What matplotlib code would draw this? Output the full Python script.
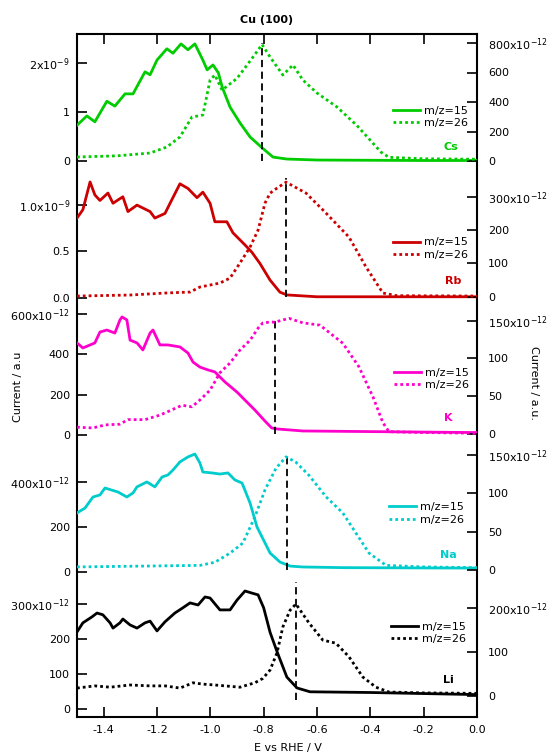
import numpy as np
import matplotlib
matplotlib.use('Agg')
import matplotlib.pyplot as plt

# ----- Fonts -----
plt.rcParams['font.family'] = ['DejaVu Sans']
plt.rcParams['mathtext.fontset'] = 'dejavusans'
plt.rcParams['axes.unicode_minus'] = False

# ----- Data (E vs RHE / V ; currents in the units given by the names) -----
cs_x15 = [-1.50, -1.463, -1.433, -1.388, -1.358, -1.320, -1.290, -1.245, -1.226, -1.200, -1.163, -1.140,
          -1.110, -1.084, -1.058, -1.028, -1.012, -0.990, -0.970, -0.955, -0.926, -0.889, -0.851, -0.806,
          -0.765, -0.713, -0.60, -0.40, -0.20, 0.0]
cs_y15_e9 = [0.73, 0.92, 0.80, 1.22, 1.12, 1.37, 1.37, 1.82, 1.76, 2.06, 2.29, 2.20,
             2.39, 2.27, 2.39, 2.06, 1.86, 1.96, 1.80, 1.50, 1.10, 0.78, 0.49, 0.27,
             0.08, 0.04, 0.02, 0.015, 0.01, 0.01]
cs_x26 = [-1.50, -1.35, -1.226, -1.163, -1.114, -1.069, -1.028, -1.001, -0.983, -0.956, -0.90, -0.85,
          -0.806, -0.776, -0.728, -0.69, -0.653, -0.60, -0.525, -0.45, -0.40, -0.36, -0.33, -0.20, 0.0]
cs_y26_e12 = [27, 35, 54, 95, 163, 298, 312, 549, 583, 481, 560, 680,
              790, 705, 583, 651, 549, 461, 366, 240, 140, 60, 25, 15, 12]

rb_x15 = [-1.50, -1.478, -1.451, -1.433, -1.414, -1.384, -1.365, -1.328, -1.309, -1.275, -1.226, -1.208,
          -1.170, -1.151, -1.114, -1.084, -1.050, -1.028, -1.001, -0.983, -0.938, -0.915, -0.870, -0.844,
          -0.814, -0.776, -0.739, -0.713, -0.60, 0.0]
rb_y15_e9 = [0.86, 0.95, 1.25, 1.11, 1.05, 1.13, 1.02, 1.09, 0.93, 1.00, 0.93, 0.86,
             0.91, 1.02, 1.23, 1.18, 1.08, 1.14, 1.02, 0.82, 0.82, 0.70, 0.57, 0.49,
             0.37, 0.19, 0.06, 0.03, 0.01, 0.01]
rb_x26 = [-1.50, -1.301, -1.170, -1.076, -1.039, -0.964, -0.926, -0.889, -0.851, -0.821, -0.795, -0.776,
          -0.750, -0.716, -0.641, -0.566, -0.48, -0.416, -0.353, -0.30, 0.0]
rb_y26_e12 = [2, 5, 11, 14, 29, 41, 56, 101, 149, 200, 281, 311,
              326, 344, 311, 251, 179, 89, 11, 3, 2]

k_x15 = [-1.50, -1.478, -1.433, -1.414, -1.388, -1.358, -1.339, -1.331, -1.313, -1.301, -1.275, -1.253,
         -1.226, -1.215, -1.189, -1.159, -1.114, -1.084, -1.065, -1.039, -1.009, -0.983, -0.964, -0.945,
         -0.900, -0.833, -0.795, -0.770, -0.750, -0.653, 0.0]
k_y15_e12 = [457, 432, 457, 511, 521, 506, 571, 586, 571, 471, 457, 422,
             506, 521, 447, 447, 437, 407, 362, 337, 323, 313, 288, 263,
             213, 124, 69, 35, 30, 20, 12]
k_x26 = [-1.50, -1.44, -1.395, -1.339, -1.309, -1.245, -1.189, -1.144, -1.106, -1.069, -1.039, -1.001,
         -0.964, -0.926, -0.889, -0.851, -0.821, -0.803, -0.776, -0.758, -0.705, -0.653, -0.589, -0.503,
         -0.443, -0.39, -0.353, -0.33, -0.20, 0.0]
k_y26_e12 = [9, 8, 12, 13, 19, 19, 25, 32, 38, 36, 45, 58,
             81, 94, 111, 124, 140, 147, 148, 148, 153, 147, 144, 120,
             89, 49, 15, 3, 2, 1]

na_x15 = [-1.50, -1.470, -1.440, -1.414, -1.395, -1.346, -1.313, -1.290, -1.275, -1.238, -1.208, -1.181,
          -1.159, -1.140, -1.114, -1.084, -1.058, -1.039, -1.028, -0.994, -0.964, -0.934, -0.908, -0.881,
          -0.851, -0.825, -0.795, -0.776, -0.739, -0.701, -0.653, -0.50, 0.0]
na_y15_e12 = [261, 283, 332, 341, 372, 354, 332, 350, 377, 399, 377, 421,
              430, 452, 488, 510, 523, 483, 443, 439, 434, 439, 408, 394,
              305, 199, 128, 83, 43, 25, 21, 18, 16]
na_x26 = [-1.50, -1.039, -0.983, -0.926, -0.878, -0.833, -0.795, -0.754, -0.716, -0.679, -0.630, -0.566,
          -0.503, -0.454, -0.405, -0.341, -0.20, 0.0]
na_y26_e12 = [4, 6, 10, 22, 35, 69, 104, 132, 147, 140, 123, 95,
              74, 48, 22, 6, 4, 3]

li_x15 = [-1.50, -1.478, -1.444, -1.425, -1.403, -1.376, -1.365, -1.339, -1.328, -1.301, -1.275, -1.245,
          -1.226, -1.200, -1.170, -1.133, -1.103, -1.076, -1.046, -1.020, -1.001, -0.964, -0.926, -0.900,
          -0.870, -0.844, -0.821, -0.800, -0.776, -0.750, -0.713, -0.675, -0.626, -0.40, 0.0]
li_y15_e12 = [221, 247, 264, 275, 270, 247, 232, 247, 258, 241, 232, 247,
              252, 224, 250, 275, 290, 304, 298, 321, 318, 284, 284, 312,
              338, 332, 327, 290, 220, 165, 92, 61, 50, 48, 42]
li_x26 = [-1.50, -1.433, -1.376, -1.301, -1.226, -1.170, -1.114, -1.065, -1.028, -0.983, -0.889, -0.833,
          -0.803, -0.776, -0.750, -0.728, -0.701, -0.679, -0.630, -0.578, -0.529, -0.480, -0.428, -0.379,
          -0.330, -0.20, 0.0]
li_y26_e12 = [18, 23, 20, 25, 23, 23, 18, 30, 27, 25, 20, 30,
              40, 59, 98, 157, 195, 209, 166, 127, 120, 89, 43, 20,
              9, 7, 6]

# peak markers (vertical dashed lines, right-axis units)
peak_v = [-0.806, -0.717, -0.758, -0.714, -0.679]
peak_lo = [0, 0, 0, 0, -8]
peak_hi = [800, 356, 155, 152, 259]

cations = ['Cs', 'Rb', 'K', 'Na', 'Li']
colors = ['#00cc00', '#cc0000', '#ff00cc', '#00cccc', '#000000']
x15 = [cs_x15, rb_x15, k_x15, na_x15, li_x15]
y15 = [cs_y15_e9, rb_y15_e9, k_y15_e12, na_y15_e12, li_y15_e12]
x26 = [cs_x26, rb_x26, k_x26, na_x26, li_x26]
y26 = [cs_y26_e12, rb_y26_e12, k_y26_e12, na_y26_e12, li_y26_e12]

left_ticks = [[0, 1, 2], [0.0, 0.5, 1.0], [0, 200, 400, 600], [0, 200, 400], [0, 100, 200, 300]]
left_labels = [['0', '1', '2x10$^{-9}$'], ['0.0', '0.5', '1.0x10$^{-9}$'],
               ['0', '200', '400', '600x10$^{-12}$'], ['0', '200', '400x10$^{-12}$'],
               ['0', '100', '200', '300x10$^{-12}$']]
right_ticks = [[0, 200, 400, 600, 800], [0, 100, 200, 300], [0, 50, 100, 150], [0, 50, 100, 150], [0, 100, 200]]
right_labels = [['0', '200', '400', '600', '800x10$^{-12}$'], ['0', '100', '200', '300x10$^{-12}$'],
                ['0', '50', '100', '150x10$^{-12}$'], ['0', '50', '100', '150x10$^{-12}$'],
                ['0', '100', '200x10$^{-12}$']]

# ----- Layout (pixels) -----
W, H = 552, 755
fl, fr, ft, fb = 77, 477, 34, 717
rect = [fl / W, 1 - fb / H, (fr - fl) / W, (fb - ft) / H]
# zero pixel row and pixels per unit for each panel, left / right axes
left_zero = [161, 297.7, 435, 571.7, 709.3]
left_scale = [49, 92.6, 0.2015, 0.225, 0.35]
right_zero = [161, 296.7, 434, 570, 696]
right_scale = [0.1475, 0.333, 0.756, 0.77, 0.44]
legend_pos = [(393, 117), (393, 248.5), (394, 379), (389, 513.5), (391, 633)]
name_pos = [(451, 147), (453, 281), (448, 418), (448, 555), (448, 680)]

fs = 8
fig = plt.figure(figsize=(W / 100, H / 100), dpi=100)

frame = fig.add_axes(rect)
frame.set_xlim(-1.5, 0.0)
frame.set_ylim(0, 1)
frame.set_xticks([-1.4, -1.2, -1.0, -0.8, -0.6, -0.4, -0.2, 0.0])
frame.set_xticklabels(['-1.4', '-1.2', '-1.0', '-0.8', '-0.6', '-0.4', '-0.2', '0.0'])
frame.set_yticks([])
frame.tick_params(axis='x', direction='in', top=True, length=7, width=1.2, pad=6, labelsize=fs)
for sp in frame.spines.values():
    sp.set_linewidth(1.5)

for i in range(5):
    axL = fig.add_axes(rect)
    axL.patch.set_visible(False)
    axL.set_xlim(-1.5, 0.0)
    axL.xaxis.set_visible(False)
    for sp in axL.spines.values():
        sp.set_visible(False)
    axL.set_ylim((left_zero[i] - fb) / left_scale[i], (left_zero[i] - ft) / left_scale[i])
    axL.set_yticks(left_ticks[i])
    axL.set_yticklabels(left_labels[i])
    axL.tick_params(axis='y', direction='in', length=7, width=1.2, pad=5, labelsize=fs)

    axR = axL.twinx()
    axR.patch.set_visible(False)
    for sp in axR.spines.values():
        sp.set_visible(False)
    axR.set_ylim((right_zero[i] - fb) / right_scale[i], (right_zero[i] - ft) / right_scale[i])
    axR.set_yticks(right_ticks[i])
    axR.set_yticklabels(right_labels[i])
    axR.tick_params(axis='y', direction='in', length=7, width=1.2, pad=8, labelsize=fs)

    l15, = axL.plot(x15[i], y15[i], color=colors[i], lw=2.0, solid_joinstyle='round')
    l26, = axR.plot(x26[i], y26[i], color=colors[i], lw=2.0, linestyle=(0, (1, 1.1)))
    axR.vlines(peak_v[i], peak_lo[i], peak_hi[i], colors='k', linestyles=(0, (4, 2.5)), lw=1.3, zorder=1)

    lx, ly = legend_pos[i]
    axR.legend([l15, l26], ['m/z=15', 'm/z=26'], loc='center left', bbox_to_anchor=(lx / W, 1 - ly / H),
               bbox_transform=fig.transFigure, frameon=False, fontsize=fs, borderpad=0, borderaxespad=0,
               handlelength=2.4, handletextpad=0.4, labelspacing=0.2)
    nx, ny = name_pos[i]
    fig.text(nx / W, 1 - ny / H, cations[i], color=colors[i], fontsize=8, fontweight='bold',
             ha='center', va='center')

fig.text(267 / W, 1 - 20 / H, 'Cu (100)', fontsize=8, fontweight='bold', ha='center', va='center')
fig.text(288 / W, 1 - 748 / H, 'E vs RHE / V', fontsize=8, ha='center', va='center')
fig.text(18 / W, 1 - 387 / H, 'Current / a.u', fontsize=8, rotation=90, ha='center', va='center')
fig.text(534 / W, 1 - 383 / H, 'Current / a.u.', fontsize=8, rotation=270, ha='center', va='center')

fig.savefig('out.png', dpi=100)
